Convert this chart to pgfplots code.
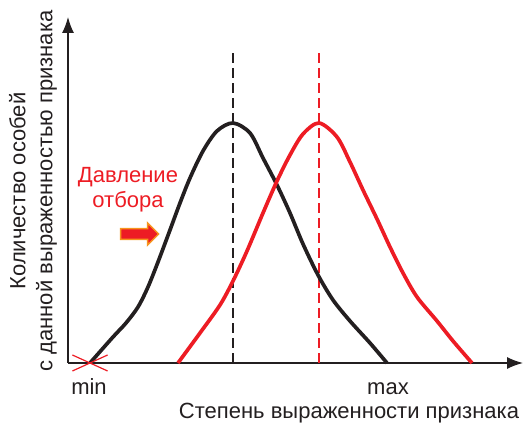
\documentclass[border=0pt]{standalone}
\usepackage{pgfplots}
\pgfplotsset{compat=1.18}
\usepackage{fontspec}
\setmainfont{Liberation Sans}
\usetikzlibrary{arrows.meta,shapes.arrows}
\definecolor{cblack}{HTML}{231F20}
\definecolor{cred}{HTML}{ED1C24}
\definecolor{corange}{HTML}{F7941D}
\begin{document}
\begin{tikzpicture}[x=1pt,y=1pt]
\useasboundingbox (0,0) rectangle (530,425);
\begin{axis}[
  at={(68pt,62pt)}, anchor=south west,
  scale only axis, width=455pt, height=346pt,
  xmin=0, xmax=455, ymin=0, ymax=346,
  clip=false,
  axis lines=left,
  axis line style={cblack, line width=1.3pt, -{Latex[length=16pt,width=12pt]}},
  xtick={21,320}, xticklabels={min,max},
  major tick length=0pt,
  xticklabel style={anchor=base, yshift=-32pt, font=\fontsize{22}{26}\selectfont, text=cblack},
  ytick=\empty,
  xlabel={Степень выраженности признака},
  xlabel style={at={(axis cs:281,-56)}, anchor=base, font=\fontsize{22}{26}\selectfont, text=cblack},
  ylabel={Количество особей\\с данной выраженностью признака},
  ylabel style={at={(axis cs:-35,172)}, anchor=center, align=center, rotate=0, font=\fontsize{22}{27}\selectfont, text=cblack},
]
\addplot[cred, only marks, mark=x, mark size=11.3pt, mark options={xscale=2.2, line width=1.2pt}] coordinates {(22,0)};
\addplot[cblack, line width=2pt, dash pattern=on 10pt off 5pt] coordinates {(165,0) (165,310)};
\addplot[cred, line width=2pt, dash pattern=on 10pt off 5pt] coordinates {(251,0) (251,310)};
\addplot[cblack, line width=3.7pt, smooth] coordinates {
(22,0) (45,26) (58,40) (70,56) (80,76) (90,101) (102,133) (112,160) (122,185) (135,212) (149,232) (165,240) (182,230) (195,205) (209,178) (222,150) (235,119) (250,88) (265,63) (282,42) (302,20) (319,0)};
\addplot[cred, line width=3.7pt, smooth] coordinates {
(110,0) (132,30) (152,58) (165,82) (179,112) (195,150) (209,182) (222,208) (235,229) (251,240) (269,226) (282,201) (295,173) (309,144) (322,116) (335,90) (349,66) (369,42) (385,22) (404,0)};
\node[text=cred, align=center, font=\fontsize{22}{25}\selectfont] at (axis cs:60,173) {Давление\\отбора};
\node[single arrow, fill=cred, draw=corange, line width=1.5pt, minimum height=38pt, minimum width=22pt, single arrow head extend=4pt, inner sep=3pt] at (axis cs:69,129) {};
\end{axis}
\end{tikzpicture}
\end{document}
